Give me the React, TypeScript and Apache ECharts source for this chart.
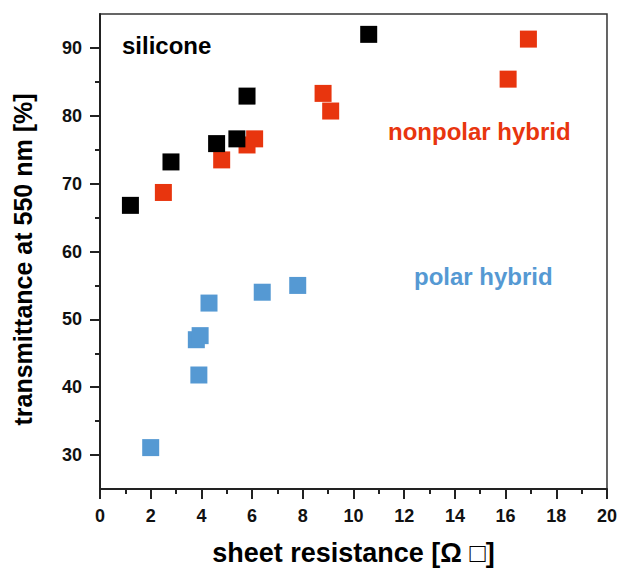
import React, { useEffect, useRef } from "react";
import * as echarts from "echarts";

const siliconeData: [number, number][] = [
  [1.2, 66.8], [2.8, 73.2], [4.6, 75.9], [5.4, 76.6], [5.8, 82.9], [10.6, 92.0],
];
const nonpolarData: [number, number][] = [
  [2.5, 68.7], [4.8, 73.5], [5.8, 75.7], [6.1, 76.6], [8.8, 83.3], [9.1, 80.7], [16.1, 85.4], [16.9, 91.3],
];
const polarData: [number, number][] = [
  [2.0, 31.1], [3.9, 41.8], [3.8, 47.0], [3.95, 47.6], [4.3, 52.4], [6.4, 54.0], [7.8, 55.0],
];
const yMajorTicks = [30, 40, 50, 60, 70, 80, 90];
const yMinorTicks = [35, 45, 55, 65, 75, 85];

const FONT = "'Liberation Sans', Arial, sans-serif";
const AXIS_COLOR = "#222";

export default function App() {
  const ref = useRef<HTMLDivElement>(null);
  useEffect(() => {
    if (!ref.current) return;
    const chart = echarts.init(ref.current, undefined, { renderer: "svg" });
    chart.setOption({
      animation: false,
      backgroundColor: "#fff",
      grid: {
        left: 100,
        right: 13,
        top: 14,
        bottom: 80,
        show: true,
        borderColor: "#333",
        borderWidth: 1.5,
        containLabel: false,
      },
      xAxis: {
        type: "value",
        min: 0,
        max: 20,
        interval: 2,
        name: "sheet resistance [Ω \u25A1]",
        nameLocation: "middle",
        nameGap: 50,
        nameTextStyle: { fontFamily: FONT, fontWeight: "bold", fontSize: 27, color: "#000" },
        axisLine: { show: true, onZero: false, lineStyle: { color: AXIS_COLOR, width: 2 } },
        axisTick: { show: true, inside: false, length: 10, lineStyle: { color: AXIS_COLOR, width: 2 } },
        minorTick: { show: true, splitNumber: 2, length: 5, lineStyle: { color: AXIS_COLOR, width: 2 } },
        axisLabel: { margin: 18, fontFamily: FONT, fontWeight: "bold", fontSize: 18, color: "#111" },
        splitLine: { show: false },
        minorSplitLine: { show: false },
      },
      yAxis: [
        {
          type: "value",
          min: 25,
          max: 95,
          name: "transmittance at 550 nm [%]",
          nameLocation: "middle",
          nameGap: 65,
          nameTextStyle: {
            fontFamily: FONT,
            fontWeight: "bold",
            fontSize: 25,
            color: "#000",
            padding: [0, 16, 0, 0],
          },
          axisLine: { show: true, onZero: false, lineStyle: { color: AXIS_COLOR, width: 2 } },
          axisTick: {
            show: true,
            inside: false,
            length: 10,
            customValues: yMajorTicks,
            lineStyle: { color: AXIS_COLOR, width: 2 },
          },
          axisLabel: {
            margin: 18,
            customValues: yMajorTicks,
            fontFamily: FONT,
            fontWeight: "bold",
            fontSize: 18,
            color: "#111",
          },
          splitLine: { show: false },
        },
        {
          type: "value",
          min: 25,
          max: 95,
          position: "left",
          axisLine: { show: false },
          axisTick: {
            show: true,
            inside: false,
            length: 5,
            customValues: yMinorTicks,
            lineStyle: { color: AXIS_COLOR, width: 2 },
          },
          axisLabel: { show: false },
          splitLine: { show: false },
        },
      ],
      series: [
        {
          name: "polar hybrid",
          type: "scatter",
          data: polarData,
          symbol: "rect",
          symbolSize: 17,
          itemStyle: { color: "#5599d3", opacity: 1 },
        },
        {
          name: "nonpolar hybrid",
          type: "scatter",
          data: nonpolarData,
          symbol: "rect",
          symbolSize: 17,
          itemStyle: { color: "#e8350e", opacity: 1 },
        },
        {
          name: "silicone",
          type: "scatter",
          data: siliconeData,
          symbol: "rect",
          symbolSize: 17,
          itemStyle: { color: "#000", opacity: 1 },
        },
      ],
      graphic: [
        {
          type: "text",
          left: 122,
          top: 33,
          style: { text: "silicone", fontFamily: FONT, fontWeight: "bold", fontSize: 24, fill: "#000" },
        },
        {
          type: "text",
          left: 388,
          top: 119,
          style: { text: "nonpolar hybrid", fontFamily: FONT, fontWeight: "bold", fontSize: 24, fill: "#e8350e" },
        },
        {
          type: "text",
          left: 414,
          top: 264,
          style: { text: "polar hybrid", fontFamily: FONT, fontWeight: "bold", fontSize: 24, fill: "#5599d3" },
        },
      ],
    });
    return () => chart.dispose();
  }, []);
  return (
    <div
      ref={ref}
      style={{ position: "fixed", left: 0, top: 0, width: 620, height: 571, background: "#fff" }}
    />
  );
}
